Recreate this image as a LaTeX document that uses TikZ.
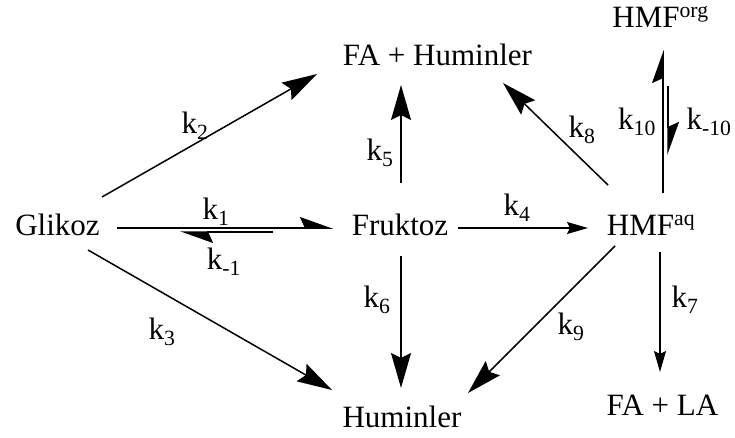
\documentclass[tikz,border=0pt]{standalone}
\usepackage{fontspec}
\setmainfont{Liberation Serif}
\usetikzlibrary{arrows.meta,calc}
\begin{document}
\begin{tikzpicture}[x=1pt,y=-1pt,
  lbl/.style={font=\fontsize{31}{36}\selectfont, inner sep=0pt},
  txt/.style={font=\fontsize{31}{36}\selectfont, inner sep=0pt, anchor=base},
  big/.style={line width=1.5pt, -{Stealth[length=35pt,width=20pt,inset=5pt]}},
  small/.style={line width=1.5pt, -{Stealth[length=21pt,width=12pt,inset=3pt]}},
  harp/.style={line width=1.5pt, -{Stealth[harpoon,length=31pt,width=22pt,inset=5pt]}}]
\useasboundingbox (0,0) rectangle (735,437);
% species
\node[txt] (gl) at (57.5,235) {Glikoz};
\node[txt] (fr) at (400,235) {Fruktoz};
\node[txt] (hmf) at (651,235) {HMF\textsuperscript{aq}};
\node[txt] (fah) at (437.5,65) {FA + Huminler};
\node[txt] (hum) at (402,427) {Huminler};
\node[txt] (fala) at (662.5,415) {FA + LA};
\node[txt] (org) at (660.5,27) {HMF\textsuperscript{org}};
% connectors
\draw[big] ($(gl.base)+(44.5,-38)$) -- ($(fah.base)+(-120.5,9)$);
\draw[big] ($(gl.base)+(30.5,15)$) -- ($(hum.base)+(-70,-37)$);
\draw[harp] ($(gl.base)+(59.5,-7)$) -- ($(fr.base)+(-67,-7)$);
\draw[harp] ($(fr.base)+(-127,-3)$) -- ($(gl.base)+(122.5,-3)$);
\draw[small] ($(fr.base)+(58,-7)$) -- ($(hmf.base)+(-63,-7)$);
\draw[big] ($(fr.base)+(1,-52)$) -- ($(fah.base)+(-36.5,20)$);
\draw[big] ($(fr.base)+(1,21)$) -- ($(hum.base)+(-1,-39)$);
\draw[big] ($(hmf.base)+(-43,-50)$) -- ($(fah.base)+(65.5,18)$);
\draw[big] ($(hmf.base)+(-36,11)$) -- ($(hum.base)+(66,-34)$);
\draw[small] ($(hmf.base)+(9,17)$) -- ($(fala.base)+(-2.5,-43)$);
\draw[harp] ($(hmf.base)+(12,-42)$) -- ($(org.base)+(2.5,23)$);
\draw[harp] ($(org.base)+(7.5,59)$) -- ($(hmf.base)+(17,-80)$);
% rate constants
\node[lbl] (k1) at (216,212) {k\textsubscript{1}};
\node[lbl] (km1) at (224,262) {k\textsubscript{-1}};
\node[lbl] (k2) at (195,126) {k\textsubscript{2}};
\node[lbl] (k3) at (162,332) {k\textsubscript{3}};
\node[lbl] (k4) at (517,208) {k\textsubscript{4}};
\node[lbl] (k5) at (380,153) {k\textsubscript{5}};
\node[lbl] (k6) at (377,300) {k\textsubscript{6}};
\node[lbl] (k7) at (685,300) {k\textsubscript{7}};
\node[lbl] (k8) at (582,130) {k\textsubscript{8}};
\node[lbl] (k9) at (571,327) {k\textsubscript{9}};
\node[lbl] (k10) at (637,122) {k\textsubscript{10}};
\node[lbl] (km10) at (709,122) {k\textsubscript{-10}};
\end{tikzpicture}
\end{document}
